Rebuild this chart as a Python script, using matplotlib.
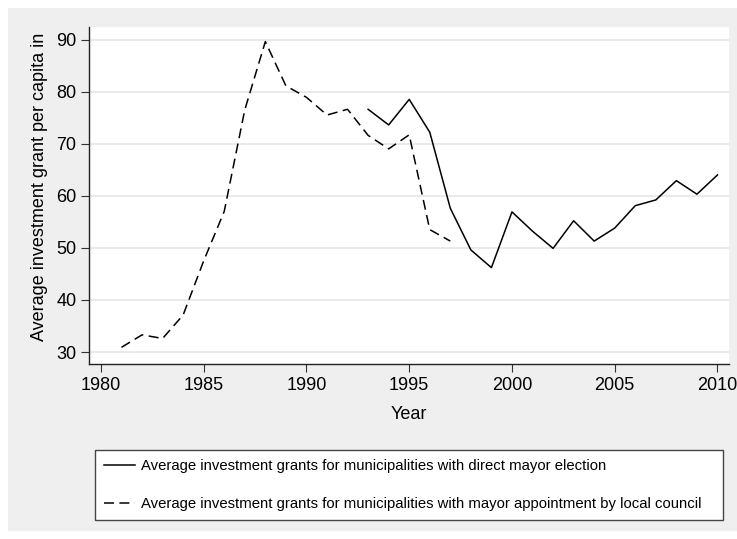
import numpy as np
import matplotlib
matplotlib.use("Agg")
import matplotlib.pyplot as plt
from matplotlib.patches import Rectangle

plt.rcParams['font.family'] = ['Liberation Sans', 'DejaVu Sans']

# appointment by local council (dashed)
years_council = [1981, 1982, 1983, 1984, 1985, 1986, 1987, 1988, 1989,
                 1990, 1991, 1992, 1993, 1994, 1995, 1996, 1997]
grants_council = [30.9, 33.3, 32.6, 37.1, 47.5, 57.0, 76.5, 89.6, 81.1,
                  78.9, 75.5, 76.6, 71.6, 69.0, 71.7, 53.5, 51.3]

# direct mayor election (solid)
years_direct = [1993, 1994, 1995, 1996, 1997, 1998, 1999, 2000, 2001,
                2002, 2003, 2004, 2005, 2006, 2007, 2008, 2009, 2010]
grants_direct = [76.6, 73.6, 78.5, 72.2, 57.6, 49.6, 46.2, 56.9, 53.2,
                 49.9, 55.2, 51.3, 53.8, 58.1, 59.2, 62.9, 60.3, 64.0]

x_ticks = [1980, 1985, 1990, 1995, 2000, 2005, 2010]
y_ticks = [30, 40, 50, 60, 70, 80, 90]

label_direct = "Average investment grants for municipalities with direct mayor election"
label_council = "Average investment grants for municipalities with mayor appointment by local council"

fig = plt.figure(figsize=(7.37, 5.39), dpi=100)
fig.patch.set_facecolor("white")
# gray graph region with a thin white margin like stata
bg = Rectangle((8 / 737, 8 / 539), 729 / 737, 523 / 539,
               transform=fig.transFigure, facecolor="#efefef",
               edgecolor="none", zorder=-5)
fig.add_artist(bg)

ax = fig.add_axes([89 / 737, 1 - 364 / 539, 640 / 737, (364 - 27) / 539])
ax.set_facecolor("white")

ax.plot(years_direct, grants_direct, color="black", lw=1.1, label=label_direct)
ax.plot(years_council, grants_council, color="black", lw=1.1,
        dashes=(6.5, 3.6), label=label_council)

ax.set_xlim(1979.42, 2010.56)
ax.set_ylim(27.7, 92.4)
ax.set_xticks(x_ticks)
ax.set_yticks(y_ticks)
ax.grid(axis="y", color="#e6e6e6", lw=1.2)
ax.set_axisbelow(True)

for s in ["top", "right"]:
    ax.spines[s].set_visible(False)
for s in ["left", "bottom"]:
    ax.spines[s].set_color("#222222")
    ax.spines[s].set_linewidth(1.0)

ax.tick_params(axis="both", labelsize=13, length=6, width=0.8, color="#333333")
ax.tick_params(axis="y", pad=3)
ax.tick_params(axis="x", pad=3)

ax.set_xlabel("Year", fontsize=13, labelpad=9)
ax.set_ylabel("Average investment grant per capita in", fontsize=13)
ax.yaxis.set_label_coords(-0.064, 0.526)

leg = fig.legend(loc="center", bbox_to_anchor=(95 / 737, 1 - 521 / 539, 628 / 737, 72 / 539),
                 mode="expand", ncol=1, fontsize=10.75, frameon=True, fancybox=False,
                 handlelength=2.05, handletextpad=0.45, labelspacing=1.6,
                 borderpad=0.6, borderaxespad=0)
leg.get_frame().set_edgecolor("#444444")
leg.get_frame().set_linewidth(1.0)
leg.get_frame().set_facecolor("white")
leg.get_frame().set_alpha(1)

fig.savefig("out.png", dpi=100, facecolor=fig.get_facecolor())
